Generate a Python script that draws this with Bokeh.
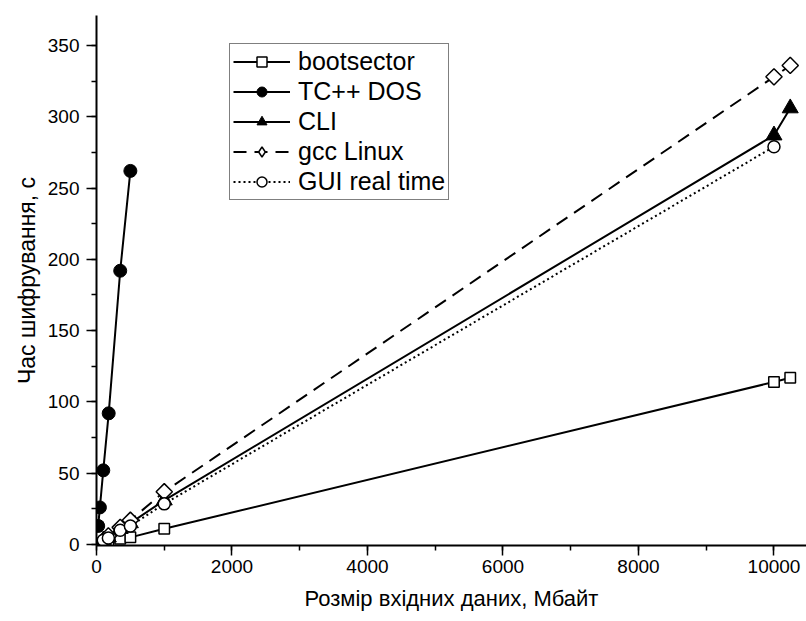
import math
from bokeh.plotting import figure
from bokeh.models import Range1d, SingleIntervalTicker, Legend, LegendItem
from bokeh.embed import file_html
from bokeh.resources import INLINE

# Data (MB vs seconds)
boot_x = [100, 175, 350, 500, 1000, 10000, 10240]
boot_y = [1, 2, 4, 5, 11, 114, 117]

tc_x = [25, 50, 100, 180, 350, 500]
tc_y = [13, 26, 52, 92, 192, 262]

cli_x = [100, 175, 350, 500, 1000, 10000, 10240]
cli_y = [3, 5, 11, 15, 31, 287, 306]

gcc_x = [175, 350, 500, 1000, 10000, 10240]
gcc_y = [6, 12, 17, 37, 328, 336]

gui_x = [100, 175, 350, 500, 1000, 10000]
gui_y = [3, 4.5, 10, 13, 28.5, 279]

x_label = "Розмір вхідних даних, Мбайт"
y_label = "Час шифрування, с"

FONT = "Liberation Sans"

p = figure(width=806, height=621, output_backend="svg", toolbar_location=None,
           x_range=Range1d(0, 10480), y_range=Range1d(-0.7, 371),
           min_border_left=96, min_border_right=0, min_border_top=15, min_border_bottom=76)
p.outline_line_color = None
p.xgrid.visible = False
p.ygrid.visible = False
p.background_fill_color = "white"

p.xaxis.ticker = SingleIntervalTicker(interval=2000, num_minor_ticks=2)
p.yaxis.ticker = SingleIntervalTicker(interval=50, num_minor_ticks=2)
for ax in (p.xaxis, p.yaxis):
    ax.axis_line_width = 2
    ax.axis_line_color = "black"
    ax.major_tick_line_color = "black"
    ax.minor_tick_line_color = "black"
    ax.major_tick_line_width = 1.5
    ax.minor_tick_line_width = 1.5
    ax.major_tick_in = 0
    ax.major_tick_out = 10
    ax.minor_tick_in = 0
    ax.minor_tick_out = 5
    ax.major_label_text_font = FONT
    ax.major_label_text_font_size = "19px"
    ax.major_label_text_color = "black"
    ax.axis_label_text_font = FONT
    ax.axis_label_text_font_style = "normal"
    ax.axis_label_text_color = "black"
p.xaxis.axis_label = x_label
p.yaxis.axis_label = y_label
p.xaxis.axis_label_text_font_size = "22px"
p.yaxis.axis_label_text_font_size = "23px"
p.xaxis.major_label_standoff = 4
p.yaxis.major_label_standoff = 7
p.xaxis.axis_label_standoff = 10
p.yaxis.axis_label_standoff = 5

LW = 2
items = []

r1 = p.line(boot_x, boot_y, line_color="black", line_width=LW)
s1 = p.scatter(boot_x, boot_y, marker="square", size=10.5, fill_color="white",
               line_color="black", line_width=1.5)
items.append(LegendItem(label="bootsector", renderers=[r1, s1]))

r2 = p.line(tc_x, tc_y, line_color="black", line_width=LW)
s2 = p.scatter(tc_x, tc_y, marker="circle", size=13, fill_color="black",
               line_color="black")
items.append(LegendItem(label="TC++ DOS", renderers=[r2, s2]))

r3 = p.line(cli_x, cli_y, line_color="black", line_width=LW)
s3 = p.scatter(cli_x, cli_y, marker="triangle", size=16, fill_color="black",
               line_color="black")
items.append(LegendItem(label="CLI", renderers=[r3, s3]))

r4 = p.line(gcc_x, gcc_y, line_color="black", line_width=LW, line_dash="13 8")
s4 = p.scatter(gcc_x, gcc_y, marker="square", angle=math.pi / 4, size=11.5,
               fill_color="white", line_color="black", line_width=1.5)
# legend-only swatch for the diamond (legend swatches ignore marker angle);
# its single point is NaN, so nothing is drawn in the plot area
nan = float("nan")
s4_leg = p.scatter(x=[nan], y=[nan], marker="diamond", size=16,
                   fill_color="white", line_color="black", line_width=1.5)
items.append(LegendItem(label="gcc Linux", renderers=[r4, s4_leg]))

r5 = p.line(gui_x, gui_y, line_color="black", line_width=LW, line_dash="2 3")
s5 = p.scatter(gui_x, gui_y, marker="circle", size=12, fill_color="white",
               line_color="black", line_width=1.5)
items.append(LegendItem(label="GUI real time", renderers=[r5, s5]))

legend = Legend(items=items, location=(133, 345), orientation="vertical",
                label_text_font=FONT, label_text_font_size="25px",
                label_text_color="black",
                glyph_width=57, glyph_height=25, label_height=25,
                label_standoff=8, spacing=1, padding=3, margin=0,
                border_line_color="black", border_line_width=1,
                background_fill_color="white", background_fill_alpha=1)
p.add_layout(legend, "center")

open("out.html", "w").write(file_html(p, INLINE))
